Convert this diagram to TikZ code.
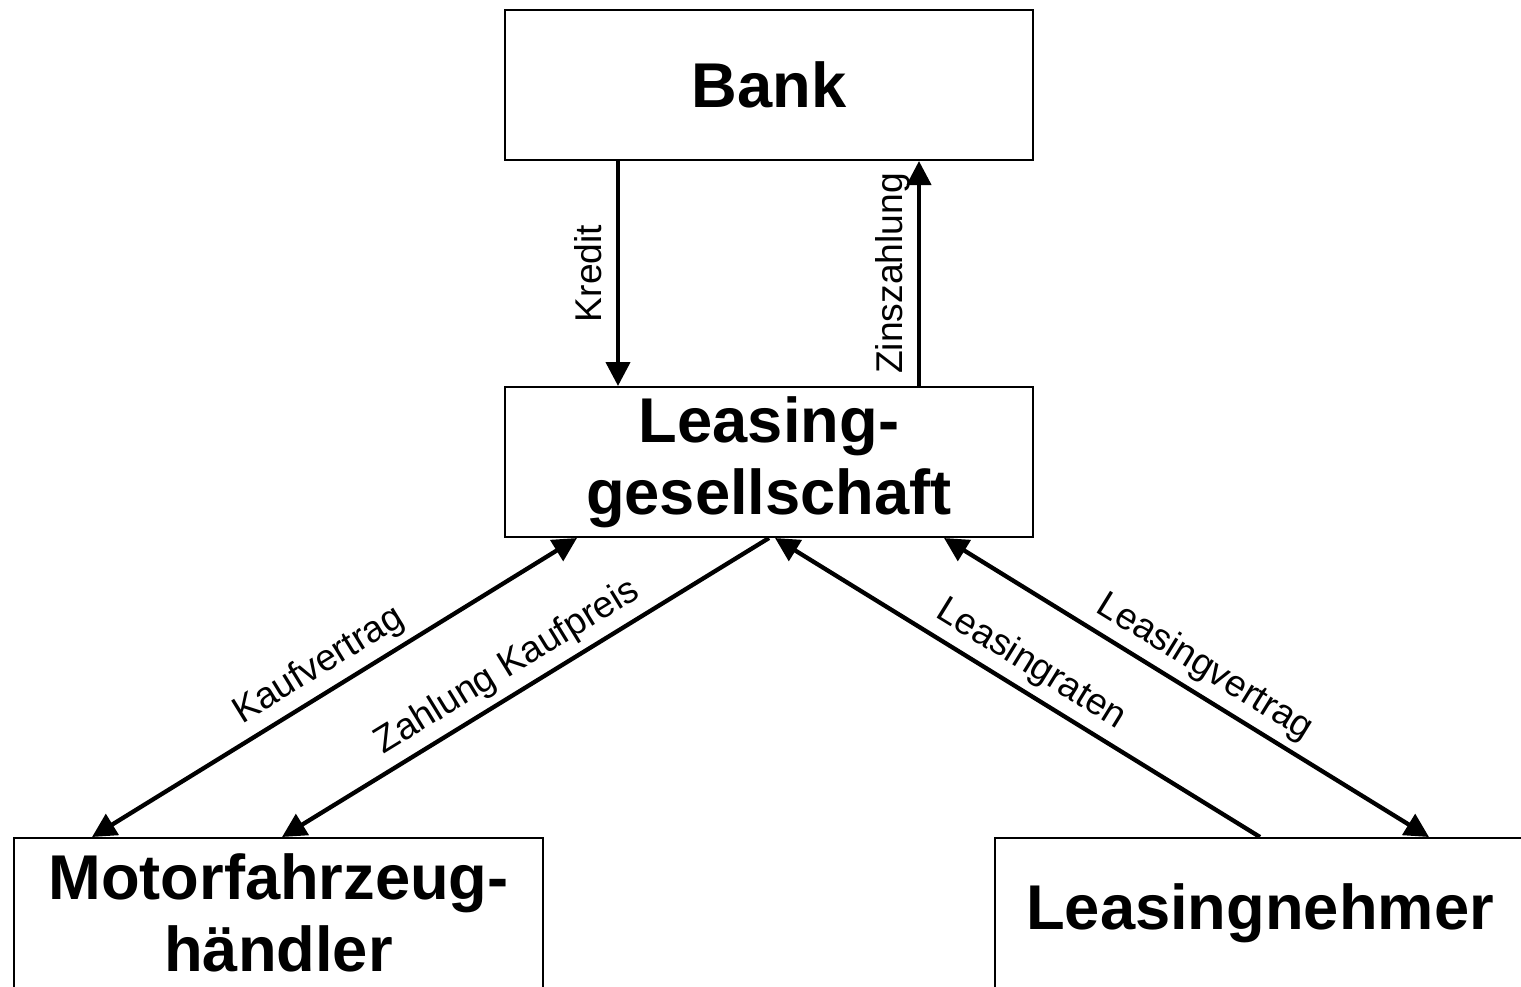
\documentclass[tikz,border=0pt]{standalone}
\usepackage{fontspec}
\setmainfont{Liberation Sans}
\usetikzlibrary{arrows.meta}
\tikzset{
  partybox/.style={draw, line width=0.02cm, minimum width=5.28cm, minimum height=1.50cm,
    align=center, inner sep=0pt, font=\fontsize{18}{20.5}\selectfont\bfseries},
  flow/.style={line width=0.043cm, -{Triangle[length=0.24cm,width=0.24cm]}},
  flowboth/.style={line width=0.043cm, {Triangle[length=0.24cm,width=0.24cm]}-{Triangle[length=0.24cm,width=0.24cm]}},
  flowlabel/.style={font=\fontsize{10.6}{12}\selectfont, inner sep=2pt, text depth=0.22em}
}
\begin{document}
\begin{tikzpicture}
                            \useasboundingbox (0,0) rectangle (15.210000,-9.860000);
                            \clip (0,0) rectangle (15.210000,-9.860000);

                            % Marking box bank
                            \node [partybox] (bank) at (7.690000,-0.850000) {Bank};%

                            % Marking box leasing company
                            \node [partybox] (lg) at (7.690000,-4.620000) {Leasing-\\gesellschaft};%

                            % Marking box dealer
                            \node [partybox, minimum width=5.29cm] (mfh) at (2.785000,-9.130000) {Motorfahrzeug-\\h\"andler};%

                            % Marking box lessee
                            \node [partybox, minimum width=5.30cm] (ln) at (12.600000,-9.130000) {Leasingnehmer};%

                            % Drawing arrow Kredit
                            \draw [flow] ([xshift=1.14cm]bank.south west) -- ([xshift=1.14cm]lg.north west)
                              node [flowlabel, midway, rotate=90, anchor=south] {Kredit};%

                            % Drawing arrow Zinszahlung
                            \draw [flow] ([xshift=4.15cm]lg.north west) -- ([xshift=4.15cm]bank.south west)
                              node [flowlabel, midway, rotate=90, anchor=south] {Zinszahlung};%

                            % Drawing arrow Kaufvertrag
                            \draw [flowboth] ([xshift=0.79cm]mfh.north west) -- ([xshift=0.73cm]lg.south west)
                              node [flowlabel, pos=0.497, sloped, above] {Kaufvertrag};%

                            % Drawing arrow Zahlung Kaufpreis
                            \draw [flow] (lg.south) -- ([xshift=2.69cm]mfh.north west)
                              node [flowlabel, pos=0.508, sloped, above] {Zahlung Kaufpreis};%

                            % Drawing arrow Leasingraten
                            \draw [flow] (ln.north) -- ([xshift=0.06cm]lg.south)
                              node [flowlabel, pos=0.501, sloped, above] {Leasingraten};%

                            % Drawing arrow Leasingvertrag
                            \draw [flowboth] ([xshift=4.40cm]lg.south west) -- ([xshift=4.35cm]ln.north west)
                              node [flowlabel, pos=0.509, sloped, above] {Leasingvertrag};%
\end{tikzpicture}
\end{document}
